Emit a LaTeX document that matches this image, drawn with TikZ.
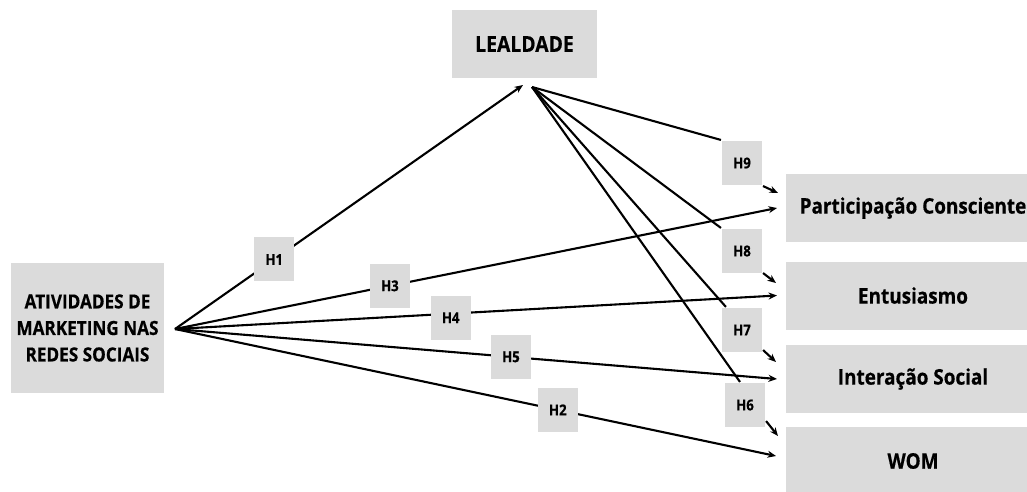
\documentclass[tikz,border=0pt]{standalone}
\usepackage{fontspec}
\newfontfamily\labelfont[FakeStretch=0.88, BoldFeatures={FakeBold=0.5}]{Open Sans}
\usetikzlibrary{arrows.meta}
\definecolor{boxgray}{RGB}{219,219,219}

\tikzset{
  varbox/.style={fill=boxgray, inner sep=0pt, align=center},
  hbox/.style={fill=boxgray, minimum width=40pt, minimum height=44pt, inner sep=0pt,
    font=\labelfont\bfseries\fontsize{15}{17}\selectfont},
  arr/.style={-{Stealth[length=8.5pt,width=7pt]}},
}

\begin{document}
\begin{tikzpicture}[x=1pt, y=-1pt, line width=2.1pt]
    \useasboundingbox (0,0) rectangle (1027,491);

    % Construtos
    \node[varbox, minimum width=153pt, minimum height=130pt,
      font=\labelfont\bfseries\fontsize{19.5}{26.5}\selectfont] (ativ) at (87.5,328)
      {ATIVIDADES DE\\MARKETING NAS\\REDES SOCIAIS};
    \node[varbox, minimum width=145pt, minimum height=68pt,
      font=\labelfont\bfseries\fontsize{22}{24}\selectfont] (leal) at (524.5,44) {LEALDADE};

    \begin{scope}[every node/.append style={varbox, minimum width=254pt, minimum height=68pt,
      font=\labelfont\bfseries\fontsize{21.5}{24}\selectfont}]
      \node (part) at (913,208) {Participação Consciente};
      \node (entu) at (913,295.5) {Entusiasmo};
      \node (inter) at (913,379) {Interação Social};
      \node (wom) at (913,461) {WOM};
    \end{scope}

    % Pontos de saida e chegada
    \coordinate (src) at (175,329);
    \coordinate (lin) at (523,85);
    \coordinate (lout) at (532,87);
    \coordinate (t9) at (778,193);
    \coordinate (t8) at (776,283);
    \coordinate (t7) at (776,362);
    \coordinate (t6) at (778,436);

    % H1 - H5
    \draw[arr] (src) -- node[hbox, pos=0.285] (h1) {H1} (lin);
    \draw[arr] (src) -- node[hbox, pos=0.357] (h3) {H3} (part.west -| 777,0);
    \draw[arr] (src) -- node[hbox, pos=0.458, yshift=-4pt] (h4) {H4} (entu.west -| 777,0);
    \draw[arr] (src) -- node[hbox, pos=0.558] (h5) {H5} (inter.west -| 777,0);
    \draw[arr] (src) -- node[hbox, pos=0.637] (h2) {H2} (776,456);

    % H6 - H9
    \node[hbox] (h9) at (742,163) {H9};
    \node[hbox] (h8) at (742,251) {H8};
    \node[hbox] (h7) at (742,330) {H7};
    \node[hbox] (h6) at (745,405) {H6};

    \draw (lout) -- (h9.north west);
    \draw (lout) -- (h8.north west);
    \draw (lout) -- ([xshift=5pt]h7.north west);
    \draw (lout) -- ([xshift=-5pt]h6.north);

    \draw[arr] (h9.south east) -- (t9);
    \draw[arr] ([yshift=1pt]h8.south east) -- (t8);
    \draw[arr] ([yshift=3pt]h7.south east) -- (t7);
    \draw[arr] ([yshift=7pt]h6.south east) -- (t6);
\end{tikzpicture}
\end{document}
